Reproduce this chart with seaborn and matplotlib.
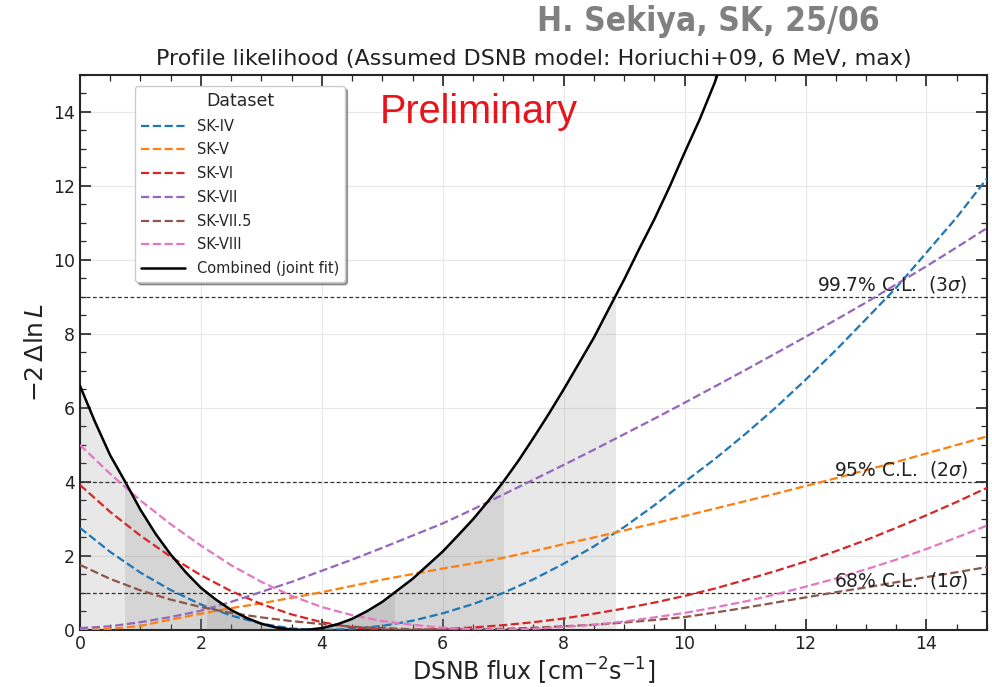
import numpy as np
import pandas as pd
import seaborn as sns
import matplotlib.pyplot as plt
from matplotlib.patches import Rectangle

# flux grid shared by the single-dataset curves
flux = [0.0, 0.5, 1.0, 1.5, 2.0, 2.5, 3.0, 3.5, 4.0, 4.5, 5.0, 5.5, 6.0, 6.5, 7.0, 7.5,
        8.0, 8.5, 9.0, 9.5, 10.0, 10.5, 11.0, 11.5, 12.0, 12.5, 13.0, 13.5, 14.0, 14.5, 15.0]

sk_iv = [2.76, 2.11, 1.55, 1.08, 0.69, 0.39, 0.17, 0.04, 0.0, 0.03, 0.11, 0.25, 0.45, 0.70, 1.0, 1.37,
         1.79, 2.26, 2.78, 3.37, 4.0, 4.62, 5.29, 6.0, 6.76, 7.56, 8.4, 9.25, 10.2, 11.15, 12.2]
sk_v = [0.0, 0.03, 0.11, 0.28, 0.44, 0.59, 0.72, 0.87, 1.02, 1.19, 1.36, 1.51, 1.66, 1.80, 1.95, 2.13,
        2.32, 2.50, 2.69, 2.88, 3.08, 3.28, 3.48, 3.68, 3.89, 4.10, 4.32, 4.54, 4.77, 5.00, 5.23]
sk_vi = [3.92, 3.19, 2.55, 1.98, 1.48, 1.05, 0.70, 0.42, 0.21, 0.07, 0.01, 0.0, 0.026, 0.068, 0.13, 0.21,
         0.31, 0.44, 0.58, 0.74, 0.92, 1.12, 1.35, 1.59, 1.85, 2.13, 2.43, 2.76, 3.10, 3.46, 3.84]
sk_vii = [0.05, 0.10, 0.21, 0.35, 0.52, 0.76, 1.03, 1.30, 1.60, 1.90, 2.22, 2.55, 2.88, 3.26, 3.66, 4.06,
          4.46, 4.87, 5.29, 5.71, 6.14, 6.58, 7.02, 7.47, 7.92, 8.38, 8.85, 9.34, 9.83, 10.34, 10.86]
sk_vii5 = [1.76, 1.38, 1.07, 0.82, 0.62, 0.46, 0.34, 0.24, 0.16, 0.09, 0.05, 0.02, 0.01, 0.02, 0.03, 0.06,
           0.10, 0.14, 0.20, 0.27, 0.35, 0.47, 0.60, 0.74, 0.88, 1.02, 1.15, 1.29, 1.43, 1.56, 1.70]
sk_viii = [5.0, 4.22, 3.50, 2.86, 2.28, 1.75, 1.30, 0.92, 0.62, 0.40, 0.24, 0.14, 0.06, 0.02, 0.01, 0.03,
           0.08, 0.14, 0.23, 0.34, 0.46, 0.61, 0.77, 0.96, 1.17, 1.39, 1.64, 1.90, 2.19, 2.50, 2.82]

# combined joint fit, finer grid
comb_flux = [0.0, 0.25, 0.5, 0.75, 1.0, 1.25, 1.5, 1.75, 2.0, 2.25, 2.5, 2.75, 3.0, 3.25, 3.5, 3.75,
             4.0, 4.25, 4.5, 4.75, 5.0, 5.25, 5.5, 5.75, 6.0, 6.25, 6.5, 6.75, 7.0, 7.25, 7.5, 7.75,
             8.0, 8.25, 8.5, 8.75, 9.0, 9.25, 9.5, 9.75, 10.0, 10.25, 10.5, 10.75, 11.0]
combined = [6.6, 5.62, 4.72, 4.0, 3.25, 2.60, 2.04, 1.56, 1.14, 0.82, 0.54, 0.33, 0.17, 0.066, 0.01, 0.004,
            0.05, 0.15, 0.30, 0.51, 0.76, 1.07, 1.38, 1.75, 2.12, 2.55, 2.99, 3.48, 4.0, 4.57, 5.19, 5.83,
            6.5, 7.2, 7.9, 8.69, 9.47, 10.3, 11.1, 11.97, 12.9, 13.8, 14.8, 16.0, 16.9]

datasets = ["SK-IV", "SK-V", "SK-VI", "SK-VII", "SK-VII.5", "SK-VIII"]
colors = ["#1f77b4", "#ff7f0e", "#d62728", "#9467bd", "#8c564b", "#e377c2"]
curves = [sk_iv, sk_v, sk_vi, sk_vii, sk_vii5, sk_viii]

# confidence levels and the combined-fit intervals
cl_levels = [1, 4, 9]
cl_labels = ["68% C.L.  (1$\\sigma$)", "95% C.L.  (2$\\sigma$)", "99.7% C.L.  (3$\\sigma$)"]
intervals = [(0.0, 8.85), (0.75, 7.0), (2.1, 5.2)]  # 3sigma, 2sigma, 1sigma

sns.set_style("ticks")
plt.rcParams["font.family"] = ["DejaVu Sans"]
plt.rcParams["xtick.direction"] = "in"
plt.rcParams["ytick.direction"] = "in"
plt.rcParams["xtick.top"] = True
plt.rcParams["ytick.right"] = True

fig = plt.figure(figsize=(9.92, 6.87), dpi=100)
ax = fig.add_axes([0.0806, 0.083, 0.9143, 0.808])

# shaded intervals under the combined curve
for lo, hi in intervals:
    band = ax.fill_between(comb_flux, combined, 0, color="grey", alpha=0.18, lw=0, zorder=1)
    band.set_clip_path(Rectangle((lo, 0), hi - lo, 15, transform=ax.transData))

long_df = pd.DataFrame({
    "flux": flux * len(datasets),
    "dnll": sum(curves, []),
    "Dataset": np.repeat(datasets, len(flux)),
})
for name, col in zip(datasets, colors):
    sub = long_df[long_df.Dataset == name]
    sns.lineplot(data=sub, x="flux", y="dnll", color=col, ls="--", lw=1.6,
                 label=name, ax=ax, zorder=3)

sns.lineplot(x=comb_flux, y=combined, color="black", lw=1.8, label="Combined (joint fit)",
             ax=ax, zorder=4)

for lvl, txt in zip(cl_levels, cl_labels):
    ax.axhline(lvl, color="#333333", ls=(0, (3, 2)), lw=0.9, zorder=2)
    ax.text(14.68, lvl + 0.06, txt, ha="right", va="bottom", fontsize=13.5, color="#222222")

ax.set_xlim(0, 15)
ax.set_ylim(0, 15)
ax.set_xticks(np.arange(0, 15, 2))
ax.set_yticks(np.arange(0, 15, 2))
ax.set_xticks(np.arange(0, 15.01, 0.5), minor=True)
ax.set_yticks(np.arange(0, 15.01, 0.5), minor=True)
ax.tick_params(which="major", length=8, width=1.2, labelsize=12.5, colors="#222222")
ax.tick_params(which="minor", length=4, width=0.9)
ax.grid(True, which="major", color="#e8e8e8", lw=0.8)
ax.set_axisbelow(True)
for s in ax.spines.values():
    s.set_linewidth(1.5)

ax.set_xlabel("DSNB flux [cm$^{-2}$s$^{-1}$]", fontsize=17, color="#222222", labelpad=2)
ax.set_ylabel("$-2\\,\\Delta\\ln L$", fontsize=18, color="#222222")
ax.set_title("Profile likelihood (Assumed DSNB model: Horiuchi+09, 6 MeV, max)",
             fontsize=16, color="#222222", pad=7)

leg = ax.legend(title="Dataset", loc="upper left", bbox_to_anchor=(0.053, 0.993),
                fontsize=10.5, title_fontsize=12.5, handlelength=3.0, labelspacing=0.6,
                shadow=True, fancybox=True, framealpha=1, edgecolor="#cccccc")

ax.text(6.6, 14.0, "Preliminary", color="#e8141b", fontsize=28.5, ha="center", va="center",
        family=["Liberation Sans", "DejaVu Sans"])
fig.text(0.714, 0.968, "H. Sekiya, SK, 25/06", color="#808080", fontsize=24, weight="bold",
         ha="center", va="center", family=["Liberation Sans Narrow", "DejaVu Sans"],
         stretch="condensed")

plt.savefig("out.png", dpi=100)
